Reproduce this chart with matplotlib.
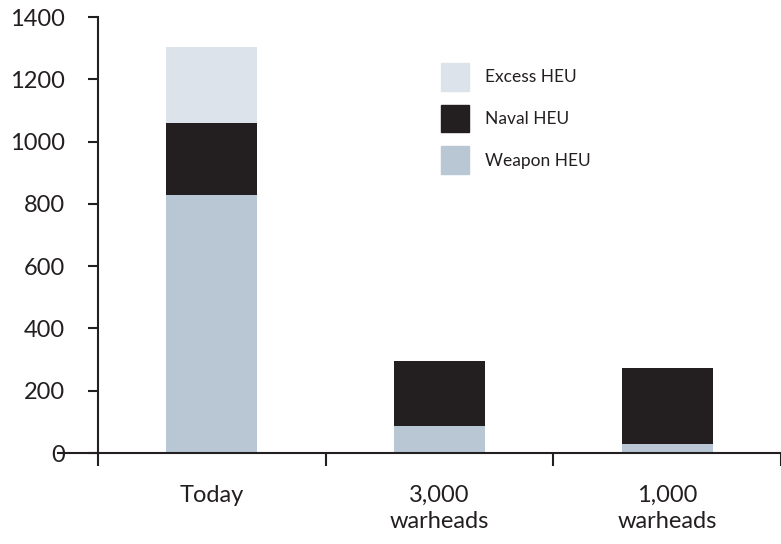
import numpy as np
import matplotlib.pyplot as plt
from matplotlib.patches import Patch

plt.rcParams['font.family'] = ['Lato', 'DejaVu Sans']

categories = ["Today", "3,000\nwarheads", "1,000\nwarheads"]
weapon = [830, 88, 30]
naval = [230, 207, 242]
excess = [245, 0, 0]
yticks = [0, 200, 400, 600, 800, 1000, 1200, 1400]

c_weapon = "#b9c7d4"
c_naval = "#231f20"
c_excess = "#dce3eb"

fig = plt.figure(figsize=(7.81, 5.44), dpi=100)
ax = fig.add_axes([58/781, 1 - 453/544, 1 - 58/781, (453 - 17)/544])

x = np.arange(len(categories))
w = 0.4
weapon = np.array(weapon)
naval = np.array(naval)
excess = np.array(excess)
ax.bar(x, weapon, w, color=c_weapon)
ax.bar(x, naval, w, bottom=weapon, color=c_naval)
ax.bar(x, excess, w, bottom=weapon + naval, color=c_excess)

ax.set_xlim(-0.675, 2.48)
ax.set_ylim(0, 1400)

for s in ["top", "right"]:
    ax.spines[s].set_visible(False)
ax.spines["left"].set_position(("data", -0.5))
ax.spines["left"].set_color("#231f20")
ax.spines["bottom"].set_color("#231f20")
ax.spines["left"].set_linewidth(1.5)
ax.spines["bottom"].set_linewidth(1.5)

ax.set_yticks(yticks)
ax.tick_params(axis="y", length=7, width=1.5, pad=17, labelsize=17, color="#231f20", labelcolor="#231f20")

ax.set_xticks([-0.5, 0.5, 1.5, 2.5])
ax.set_xticklabels([])
ax.tick_params(axis="x", which="major", length=9, width=1.5, color="#231f20")
ax.set_xticks(x, minor=True)
ax.set_xticklabels(categories, minor=True, linespacing=1.3)
ax.tick_params(axis="x", which="minor", length=0, pad=23, labelsize=17, labelcolor="#231f20")

handles = [Patch(color=c_excess, label="Excess HEU"),
           Patch(color=c_naval, label="Naval HEU"),
           Patch(color=c_weapon, label="Weapon HEU")]
fig.legend(handles=handles, loc="upper left", bbox_to_anchor=(441/781, 1 - 63/544),
           frameon=False, fontsize=12.5, handlelength=1.6, handleheight=2.08,
           labelspacing=0.8, handletextpad=0.92, borderpad=0, borderaxespad=0,
           labelcolor="#231f20")

fig.savefig("out.png", dpi=100)
